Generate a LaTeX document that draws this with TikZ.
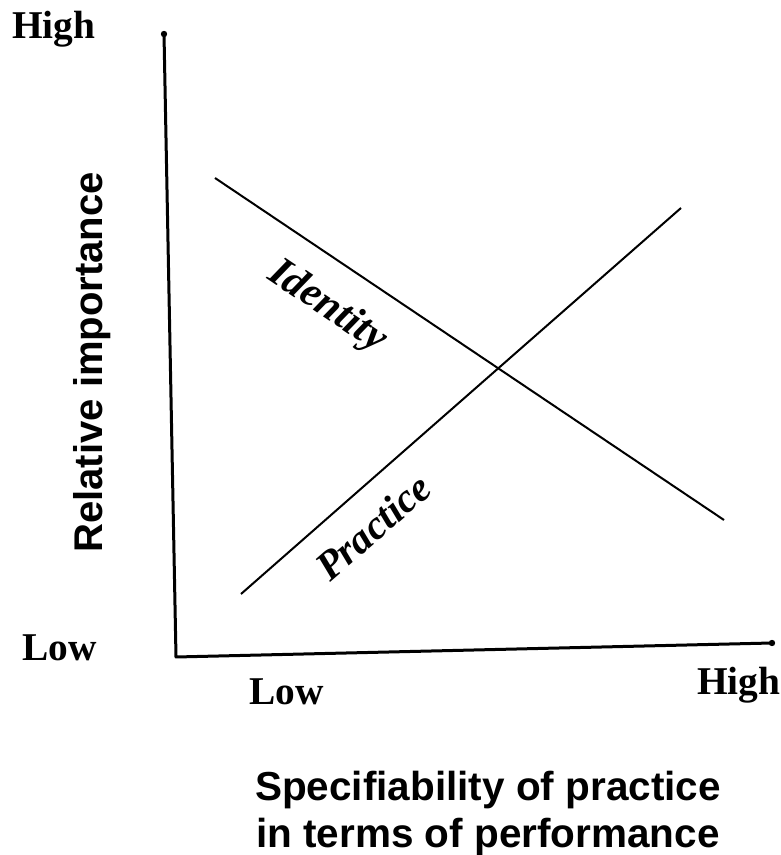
\documentclass[tikz,border=0pt]{standalone}
\usepackage{fontspec}
\setmainfont{Liberation Serif}
\setsansfont{Liberation Sans}
\usepackage{xcolor}

\begin{document}
\begin{tikzpicture}
\definecolor{cv0}{rgb}{0.0,0.0,0.0}
\definecolor{cv2}{rgb}{0.0,0.0,0.0}
\definecolor{cv0v1}{rgb}{0.0,0.0,0.0}
\definecolor{cv1v2}{rgb}{0.0,0.0,0.0}
\definecolor{cv3v4}{rgb}{0.0,0.0,0.0}
\definecolor{cv5v6}{rgb}{0.0,0.0,0.0}
\definecolor{cl}{rgb}{0.0,0.0,0.0}
%
\useasboundingbox (0cm,0cm) rectangle (19.525cm,21.375cm);
%
\coordinate (v0) at (4.1cm,20.525cm);
\coordinate (v1) at (4.4cm,4.95cm);
\coordinate (v2) at (19.3cm,5.3cm);
\coordinate (v3) at (5.375cm,16.925cm);
\coordinate (v4) at (18.1cm,8.375cm);
\coordinate (v5) at (6.025cm,6.525cm);
\coordinate (v6) at (17.025cm,16.175cm);
%
\draw[line width=0.075cm,line cap=round,line join=round,color=cv0v1] (v0) -- (v1) -- (v2);
\draw[line width=0.05cm,color=cv3v4] (v3) -- (v4);
\draw[line width=0.05cm,color=cv5v6] (v5) -- (v6);
\fill[color=cv0] (v0) circle (0.08cm);
\fill[color=cv2] (v2) circle (0.08cm);
%
\node[style={inner sep=0pt,text=cl,font=\bfseries\fontsize{28}{28}\selectfont},anchor=base west] (yhigh) at (0.3cm,20.4cm) {High};
\node[style={inner sep=0pt,text=cl,font=\bfseries\fontsize{28}{28}\selectfont},anchor=base west] (ylow) at (0.55cm,4.85cm) {Low};
\node[style={inner sep=0pt,text=cl,font=\bfseries\fontsize{28}{28}\selectfont},anchor=base west] (xlow) at (6.225cm,3.75cm) {Low};
\node[style={inner sep=0pt,text=cl,font=\bfseries\fontsize{28}{28}\selectfont},anchor=base west] (xhigh) at (17.425cm,4.0cm) {High};
\node[style={inner sep=0pt,text=cl,font=\bfseries\itshape\fontsize{30}{30}\selectfont},rotate=-34] (lv3v4) at (8.175cm,13.7cm) {Identity};
\node[style={inner sep=0pt,text=cl,font=\bfseries\itshape\fontsize{29}{29}\selectfont},rotate=41] (lv5v6) at (9.325cm,8.2cm) {Practice};
\node[style={inner sep=0pt,text=cl,font=\sffamily\bfseries\fontsize{28.5}{28.5}\selectfont},anchor=base west,rotate=90] (ytitle) at (2.575cm,7.55cm) {Relative importance};
\node[style={inner sep=0pt,text=cl,font=\sffamily\bfseries\fontsize{28.8}{34}\selectfont},align=center,anchor=base] (xtitle) at (12.2cm,0.175cm) {Specifiability of practice\\in terms of performance};
%
\end{tikzpicture}
\end{document}
